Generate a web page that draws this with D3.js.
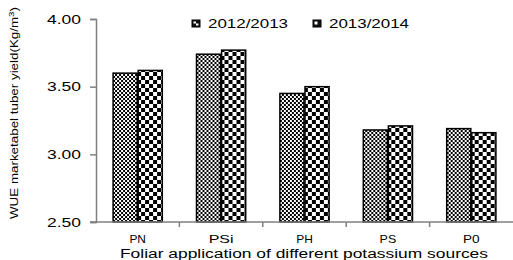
<!DOCTYPE html>
<html><head><meta charset="utf-8">
<script src="https://cdn.jsdelivr.net/npm/d3@7"></script>
<style>body{margin:0;background:#fff}svg{display:block}text{font-family:"Liberation Sans",Arial,sans-serif;fill:#000}</style>
</head><body>
<script>
const categories = ["PN","PSi","PH","PS","P0"];
const seriesNames = ["2012/2013","2013/2014"];
const s2012 = [3.60,3.74,3.45,3.18,3.19];
const s2013 = [3.62,3.77,3.50,3.21,3.16];
const yTicks = [2.5,3.0,3.5,4.0];

const W=513,H=260;
const svg=d3.select("body").append("svg").attr("width",W).attr("height",H);
const defs=svg.append("defs");
// fine checker
const p1=defs.append("pattern").attr("id","p1").attr("patternUnits","userSpaceOnUse").attr("width",4).attr("height",4);
p1.append("rect").attr("width",4).attr("height",4).attr("fill","#fff");
p1.append("rect").attr("width",2).attr("height",2).attr("fill","#000");
p1.append("rect").attr("x",2).attr("y",2).attr("width",2).attr("height",2).attr("fill","#000");
// coarse checker
const p2=defs.append("pattern").attr("id","p2").attr("patternUnits","userSpaceOnUse").attr("width",8).attr("height",8);
p2.append("rect").attr("width",8).attr("height",8).attr("fill","#fff");
p2.append("rect").attr("width",4).attr("height",4).attr("fill","#000");
p2.append("rect").attr("x",4).attr("y",4).attr("width",4).attr("height",4).attr("fill","#000");

const x=d3.scaleBand().domain(categories).range([96,513]).paddingInner(0.41).paddingOuter(0.205);
const xs=d3.scaleBand().domain(seriesNames).range([0,x.bandwidth()]).paddingInner(0.04);
const y=d3.scaleLinear().domain([2.5,4.0]).range([222,19]);

const data=categories.map((c,i)=>({c,vals:[s2012[i],s2013[i]]}));
const g=svg.append("g");
g.selectAll("g.cat").data(data).join("g").attr("class","cat")
 .attr("transform",d=>`translate(${x(d.c)},0)`)
 .selectAll("rect").data(d=>d.vals.map((v,j)=>({v,s:seriesNames[j],j})))
 .join("rect")
 .attr("x",d=>xs(d.s)).attr("width",xs.bandwidth())
 .attr("y",d=>y(d.v)).attr("height",d=>y(2.5)-y(d.v))
 .attr("fill",d=>d.j===0?"url(#p1)":"url(#p2)")
 .attr("stroke","#000").attr("stroke-width",1.5);

// y axis
const ya=svg.append("g").attr("transform","translate(96,0)")
 .call(d3.axisLeft(y).tickValues(yTicks).tickFormat(d3.format(".2f")).tickSize(6).tickPadding(6));
ya.select(".domain").attr("stroke","#808080").attr("stroke-width",1.5);
ya.selectAll(".tick line").attr("stroke","#808080").attr("stroke-width",1.5);
ya.selectAll(".tick text").attr("font-size",13).attr("textLength",34).attr("lengthAdjust","spacingAndGlyphs").attr("x",-15).attr("fill","#000");

// x axis
const xa=svg.append("g").attr("transform","translate(0,222)")
 .call(d3.axisBottom(x).tickSize(0));
xa.select(".domain").attr("stroke","#808080").attr("stroke-width",1.5).attr("d","M90,0H513");
xa.selectAll(".tick text").attr("font-size",11).attr("fill","#000")
 .attr("y",21).attr("dy",null)
 .attr("textLength",d=>d.length*8.3).attr("lengthAdjust","spacingAndGlyphs");
const bounds=categories.map(c=>x(c)-x.step()*x.paddingInner()/2).slice(1);
xa.selectAll("line.b").data(bounds).join("line").attr("class","b")
 .attr("x1",d=>d).attr("x2",d=>d).attr("y1",0).attr("y2",5).attr("stroke","#808080").attr("stroke-width",1.5);

// x title
svg.append("text").attr("x",304).attr("y",258).attr("text-anchor","middle").attr("font-size",12)
 .attr("textLength",368).attr("lengthAdjust","spacingAndGlyphs")
 .text("Foliar application of different potassium sources");

// y title
const yt=svg.append("text").attr("transform","translate(18,113) rotate(-90)").attr("text-anchor","middle").attr("font-size",11)
 .attr("textLength",212).attr("lengthAdjust","spacingAndGlyphs");
yt.append("tspan").text("WUE marketabel tuber yield(Kg/m");
yt.append("tspan").attr("dy",-4).attr("font-size",8).text("3");
yt.append("tspan").attr("dy",4).text(")");

// legend
const lx=[192,313];
const lg=svg.selectAll("g.leg").data(seriesNames).join("g").attr("class","leg")
 .attr("transform",(d,i)=>`translate(${lx[i]},20)`);
lg.append("rect").attr("width",8).attr("height",7).attr("fill","#111").attr("stroke","#000").attr("stroke-width",1);
lg.filter((d,i)=>i===0).append("rect").attr("x",1.5).attr("y",1.5).attr("width",2.5).attr("height",2).attr("fill","#fff");
lg.filter((d,i)=>i===0).append("rect").attr("x",4).attr("y",3.5).attr("width",2.5).attr("height",2).attr("fill","#fff");
lg.filter((d,i)=>i===1).append("rect").attr("x",1.5).attr("y",1.5).attr("width",3).attr("height",3).attr("fill","#fff");
lg.append("text").attr("x",16).attr("y",8).attr("font-size",13).attr("textLength",80).attr("lengthAdjust","spacingAndGlyphs").text(d=>d);
</script>
</body></html>
